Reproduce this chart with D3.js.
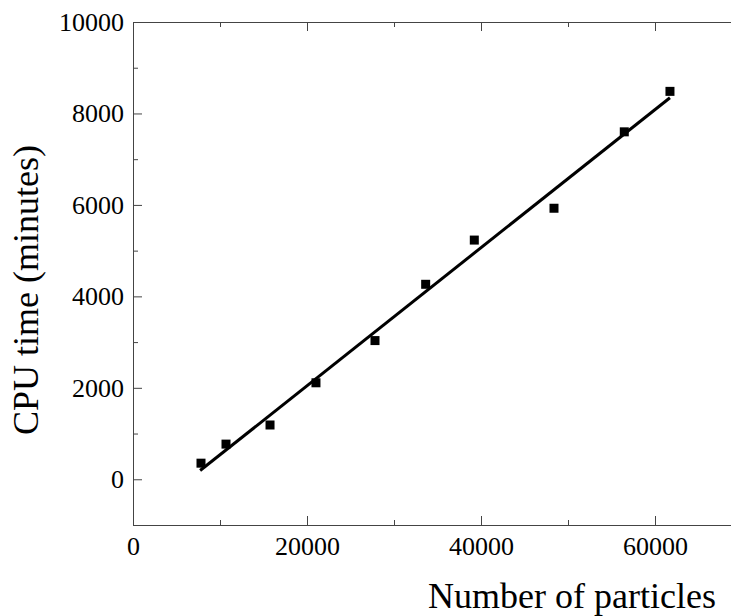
<!DOCTYPE html>
<html lang="en">
<head>
<meta charset="UTF-8">
<title>CPU time vs particles</title>
<script src="https://cdn.jsdelivr.net/npm/d3@7/dist/d3.min.js"></script>
<style>
  body { margin: 0; background: #fff; }
  svg { display: block; font-family: "Liberation Serif", "Times New Roman", serif; }
  .axis path, .axis line { stroke: #444; }
  .axis text { fill: #000; font-size: 26px; font-family: "Liberation Serif", serif; }
</style>
</head>
<body>
<svg width="731" height="616"></svg>
<script>
// data
var particles  = [7816, 10690, 15750, 21030, 27816, 33640, 39230, 48390, 56470, 61720];
var cpuMinutes = [352, 769, 1187, 2110, 3033, 4264, 5231, 5927, 7598, 8483];
var xTicks = [0, 20000, 40000, 60000];
var xMinor = [10000, 30000, 50000];
var yTicks = [0, 2000, 4000, 6000, 8000, 10000];
var yMinor = [-1000, 1000, 3000, 5000, 7000, 9000];

var svg = d3.select("svg");
var mLeft = 133, mRight = 742, mTop = 22, mBottom = 525;

var x = d3.scaleLinear().domain([0, 70000]).range([mLeft, mRight]);
var y = d3.scaleLinear().domain([-1000, 10000]).range([mBottom, mTop]);
var fmt = d3.format("d");

// minor ticks
function minor(axis, tr) {
  svg.append("g").attr("class", "axis").attr("transform", tr)
    .call(axis.tickSizeInner(-5).tickSizeOuter(0).tickFormat(""))
    .select(".domain").remove();
}
minor(d3.axisBottom(x).tickValues(xMinor), "translate(0," + mBottom + ")");
minor(d3.axisTop(x).tickValues(xMinor), "translate(0," + mTop + ")");
minor(d3.axisLeft(y).tickValues(yMinor), "translate(" + mLeft + ",0)");

// major ticks, ticks point inward
svg.append("g").attr("class", "axis").attr("transform", "translate(0," + mBottom + ")")
  .call(d3.axisBottom(x).tickValues(xTicks).tickFormat(fmt).tickSizeInner(-9).tickSizeOuter(0).tickPadding(12));
svg.append("g").attr("class", "axis").attr("transform", "translate(0," + mTop + ")")
  .call(d3.axisTop(x).tickValues(xTicks).tickSizeInner(-9).tickSizeOuter(0).tickFormat(""));
svg.append("g").attr("class", "axis").attr("transform", "translate(" + mLeft + ",0)")
  .call(d3.axisLeft(y).tickValues(yTicks).tickFormat(fmt).tickSizeInner(-9).tickSizeOuter(0).tickPadding(9));

// least squares fit
var mx = d3.mean(particles), my = d3.mean(cpuMinutes);
var sxy = d3.sum(particles, function(d, i) { return (d - mx) * (cpuMinutes[i] - my); });
var sxx = d3.sum(particles, function(d) { return (d - mx) * (d - mx); });
var slope = sxy / sxx, icpt = my - slope * mx;
var ends = d3.extent(particles);
ends[0] -= 100;

svg.append("path")
  .attr("d", d3.line().x(function(d) { return x(d); }).y(function(d) { return y(slope * d + icpt); })(ends))
  .attr("stroke", "#000").attr("stroke-width", 3).attr("fill", "none");

var sq = 9;
svg.selectAll("rect.pt").data(particles).enter().append("rect")
  .attr("class", "pt")
  .attr("x", function(d) { return x(d) - sq / 2; })
  .attr("y", function(d, i) { return y(cpuMinutes[i]) - sq / 2; })
  .attr("width", sq).attr("height", sq)
  .attr("fill", "#000");

// titles
svg.append("text")
  .attr("x", 572).attr("y", 608)
  .attr("text-anchor", "middle").attr("font-size", 36)
  .text("Number of particles");
svg.append("text")
  .attr("transform", "translate(38,290) rotate(-90)")
  .attr("text-anchor", "middle").attr("font-size", 36)
  .text("CPU time (minutes)");
</script>
</body>
</html>
